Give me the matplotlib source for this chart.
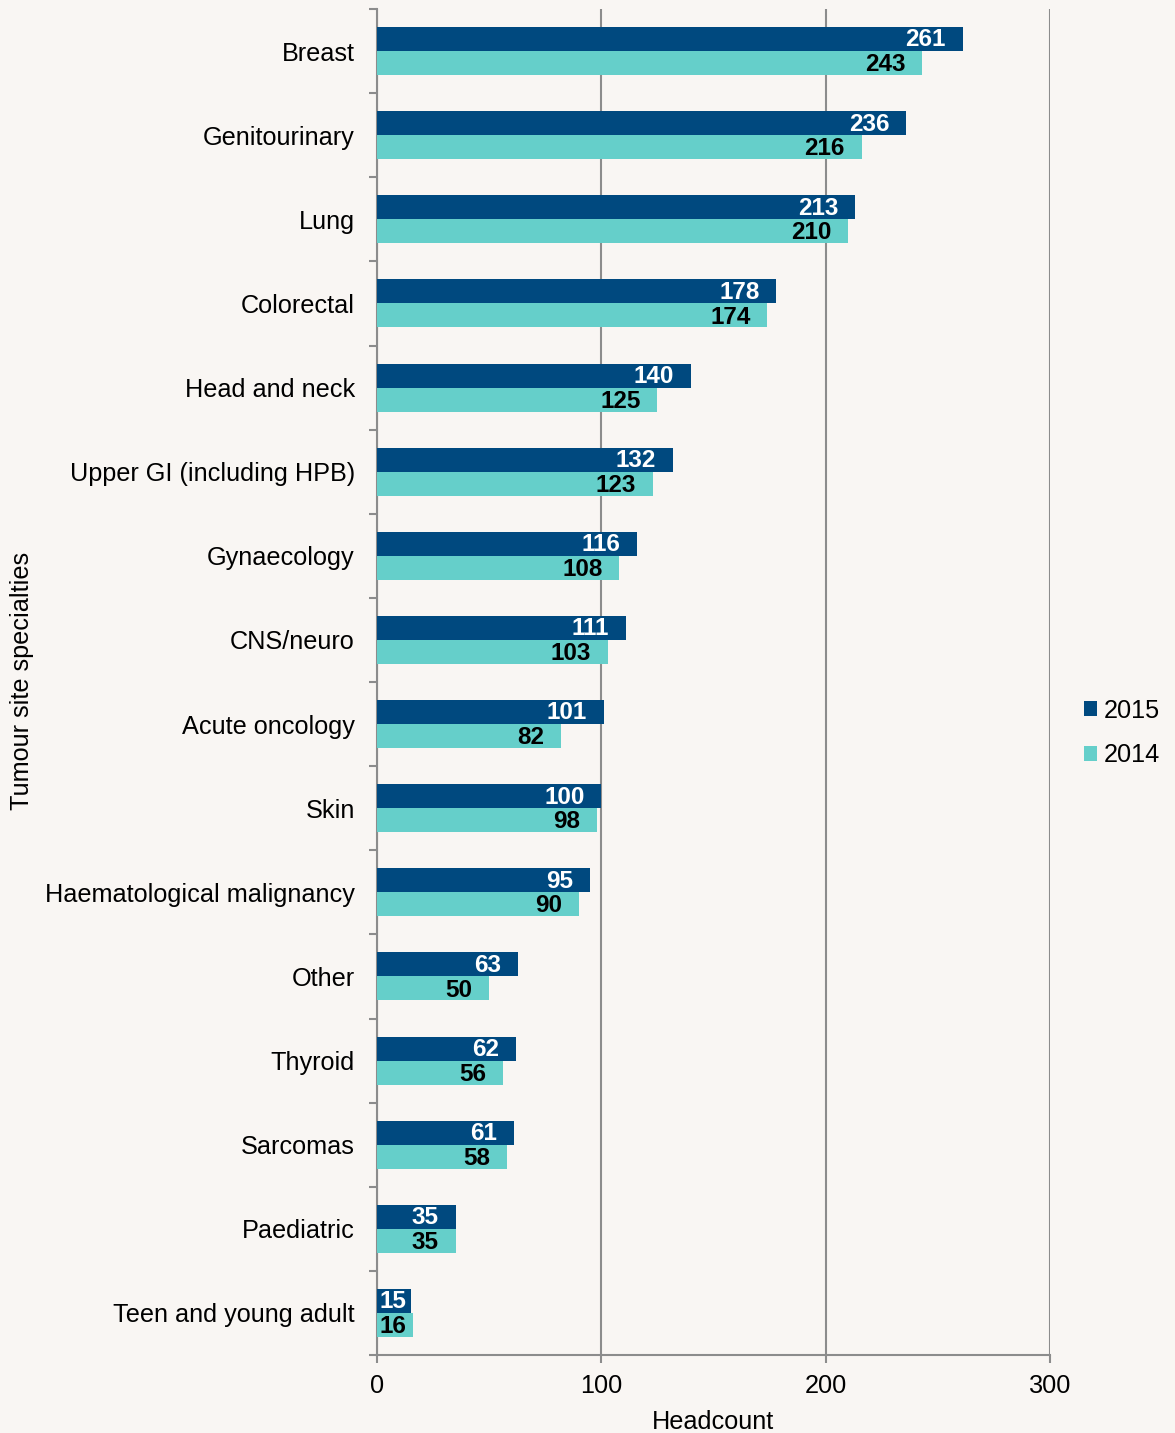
import matplotlib.pyplot as plt
import numpy as np

plt.rcParams['font.family'] = ['Liberation Sans', 'DejaVu Sans']

specialties = ["Breast", "Genitourinary", "Lung", "Colorectal", "Head and neck",
               "Upper GI (including HPB)", "Gynaecology", "CNS/neuro", "Acute oncology",
               "Skin", "Haematological malignancy", "Other", "Thyroid", "Sarcomas",
               "Paediatric", "Teen and young adult"]
count_2015 = [261, 236, 213, 178, 140, 132, 116, 111, 101, 100, 95, 63, 62, 61, 35, 15]
count_2014 = [243, 216, 210, 174, 125, 123, 108, 103, 82, 98, 90, 50, 56, 58, 35, 16]

dark = "#00497f"
teal = "#65cfca"
bg = "#f9f6f3"
grey = "#8c8c8c"
fs = 18.2
fs_val = 17.5

fig = plt.figure(figsize=(11.75, 14.33), dpi=100, facecolor=bg)
ax = fig.add_axes([377 / 1175, 1 - 1355 / 1433, 673 / 1175, 1346 / 1433])
ax.set_facecolor(bg)

y = np.arange(len(specialties))
h = 0.285
b15 = ax.barh(y - h / 2, count_2015, height=h, color=dark, label="2015", zorder=3)
b14 = ax.barh(y + h / 2, count_2014, height=h, color=teal, label="2014", zorder=3)


def bar_label(v, yy, color):
    # short bars: keep the label from spilling past the axis
    if v < 25:
        ax.text(1, yy, str(v), ha="left", va="center", color=color,
                fontsize=fs_val, fontweight="bold", zorder=4)
    else:
        ax.text(v - 7.5, yy, str(v), ha="right", va="center", color=color,
                fontsize=fs_val, fontweight="bold", zorder=4)


for yi, v in zip(y, count_2015):
    bar_label(v, yi - h / 2 + 0.01, "white")
for yi, v in zip(y, count_2014):
    bar_label(v, yi + h / 2 + 0.02, "black")

ax.set_xlim(0, 300)
ax.set_ylim(len(specialties) - 0.5, -0.5)
ax.set_xticks([0, 100, 200, 300])
ax.tick_params(axis="x", labelsize=fs, direction="out", length=6, color=grey, width=1.5, pad=8)

# y ticks sit between categories, labels at the centres
ax.set_yticks(np.arange(-0.5, len(specialties), 1))
ax.set_yticklabels([])
ax.set_yticks(y, minor=True)
ax.set_yticklabels(specialties, minor=True, fontsize=fs)
ax.tick_params(axis="y", which="major", direction="out", length=6, color=grey, width=1.5)
ax.tick_params(axis="y", which="minor", length=0, pad=16)

ax.grid(axis="x", color=grey, linewidth=1.5, zorder=0)
for s in ["top", "right"]:
    ax.spines[s].set_visible(False)
for s in ["left", "bottom"]:
    ax.spines[s].set_color(grey)
    ax.spines[s].set_linewidth(1.5)

ax.set_xlabel("Headcount", fontsize=fs, labelpad=8)
fig.text(22 / 1175, 1 - 681 / 1433, "Tumour site specialties", rotation=90,
         ha="center", va="center", fontsize=fs)

leg = fig.legend(handles=[b15, b14], loc="center left", bbox_to_anchor=(1084 / 1175, 1 - 733 / 1433),
                 frameon=False, fontsize=fs, handlelength=0.5, handleheight=0.5,
                 handletextpad=0.3, labelspacing=0.82, borderpad=0, borderaxespad=0)

fig.savefig("out.png", dpi=100, facecolor=bg)
